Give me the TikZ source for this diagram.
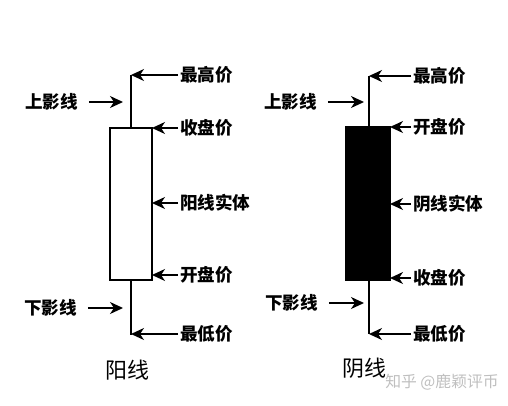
\documentclass[tikz,border=0pt]{standalone}
\usepackage{fontspec}
\newfontfamily\cjk{Noto Sans CJK SC}
\usetikzlibrary{arrows.meta}

\begin{document}
\begin{tikzpicture}[every node/.style={font=\cjk\bfseries\fontsize{10}{12}\selectfont, inner sep=1pt},
  stick/.style={line width=1.7pt},
  tag/.style={line width=0.8pt, -{Stealth[length=2.6mm, width=2.4mm, inset=0.8mm]}}]
\useasboundingbox (0,0) rectangle (10.16,8.1);
% yang candle
\draw[stick] (2.62,5.54) -- (2.62,6.6) coordinate (hiA);
\draw[stick] (2.62,2.5) -- (2.62,1.4) coordinate (loA);
\draw[stick] (2.2,2.5) rectangle (3.04,5.54);
\coordinate (clA) at (3.04,5.54);
\coordinate (bdA) at (3.04,4.04);
\coordinate (opA) at (3.04,2.6);
\coordinate (upA) at (2.46,6.06);
\coordinate (dnA) at (2.46,1.94);
\node[anchor=west] (hiAt) at (3.56,6.6) {最高价};
\node[anchor=west] (clAt) at (3.56,5.54) {收盘价};
\node[anchor=west] (bdAt) at (3.56,4.04) {阳线实体};
\node[anchor=west] (opAt) at (3.56,2.6) {开盘价};
\node[anchor=west] (loAt) at (3.56,1.42) {最低价};
\node[anchor=east] (upAt) at (1.6,6.06) {上影线};
\node[anchor=east] (dnAt) at (1.58,1.94) {下影线};
\draw[tag] (hiAt) -- (hiA);
\draw[tag] (clAt) -- (clA);
\draw[tag] (bdAt) -- (bdA);
\draw[tag] (opAt) -- (opA);
\draw[tag] (loAt) -- (2.62,1.42);
\draw[tag, shorten <=5pt] (upAt) -- (upA);
\draw[tag, shorten <=5pt] (dnAt) -- (dnA);
\node[font=\cjk\fontsize{12.5}{14}\selectfont] (yang) at (2.54,0.7) {阳线};
% yin candle
\draw[stick] (7.38,5.56) -- (7.38,6.58) coordinate (hiB);
\draw[stick] (7.38,2.5) -- (7.38,1.42) coordinate (loB);
\draw[stick, fill=black] (6.92,2.5) rectangle (7.8,5.56);
\coordinate (opB) at (7.8,5.56);
\coordinate (bdB) at (7.8,4.02);
\coordinate (clB) at (7.8,2.54);
\coordinate (upB) at (7.28,6.06);
\coordinate (dnB) at (7.28,2.04);
\node[anchor=west] (hiBt) at (8.22,6.58) {最高价};
\node[anchor=west] (opBt) at (8.22,5.56) {开盘价};
\node[anchor=west] (bdBt) at (8.22,4.02) {阴线实体};
\node[anchor=west] (clBt) at (8.22,2.54) {收盘价};
\node[anchor=west] (loBt) at (8.22,1.42) {最低价};
\node[anchor=east] (upBt) at (6.38,6.06) {上影线};
\node[anchor=east] (dnBt) at (6.4,2.04) {下影线};
\draw[tag] (hiBt) -- (hiB);
\draw[tag] (opBt) -- (opB);
\draw[tag] (bdBt) -- (bdB);
\draw[tag] (clBt) -- (clB);
\draw[tag] (loBt) -- (loB);
\draw[tag, shorten <=5pt] (upBt) -- (upB);
\draw[tag, shorten <=5pt] (dnBt) -- (dnB);
\node[font=\cjk\fontsize{12.5}{14}\selectfont] (yin) at (7.28,0.74) {阴线};
\node[font=\cjk\fontsize{9}{10}\selectfont, text=black!25] (mark) at (8.84,0.46) {知乎 @鹿颖评币};
\end{tikzpicture}
\end{document}
